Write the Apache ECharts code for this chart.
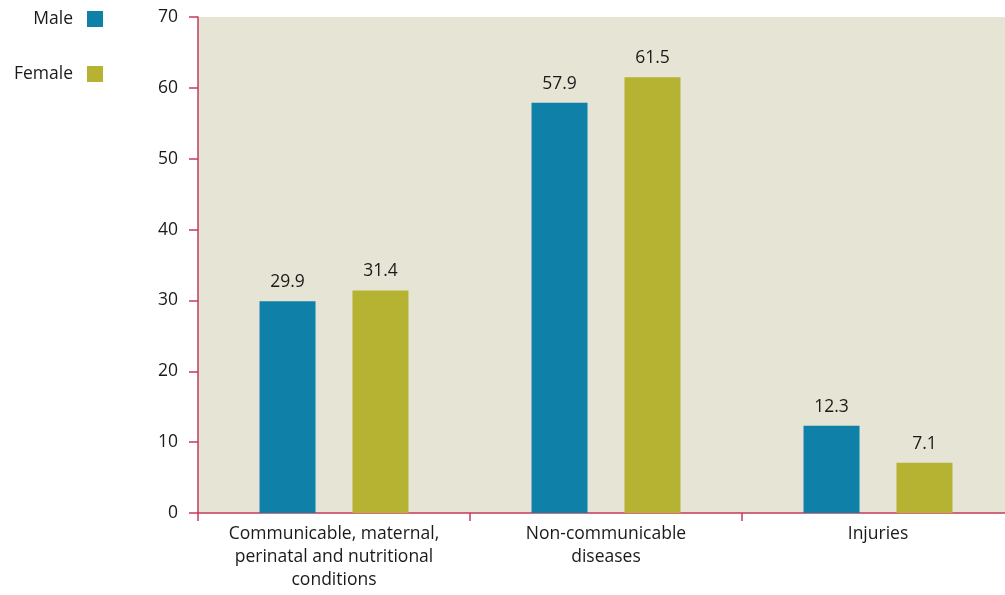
<!DOCTYPE html>
<html>
<head>
<meta charset="utf-8">
<script src="https://cdn.jsdelivr.net/npm/echarts@6/dist/echarts.min.js"></script>
<style>
  html, body { margin: 0; padding: 0; background: #ffffff; }
  #chart { width: 1005px; height: 595px; }
</style>
</head>
<body>
<div id="chart"></div>
<script>
// Share of deaths by cause group, by sex
const categories = [
  'Communicable, maternal,\nperinatal and nutritional\nconditions',
  'Non-communicable\ndiseases',
  'Injuries'
];
const maleValues = [29.9, 57.9, 12.3];
const femaleValues = [31.4, 61.5, 7.1];
const yTicks = { min: 0, max: 70, interval: 10 };

const FONT = 'Open Sans';
const FONT_SIZE = 17.5;
const AXIS_COLOR = '#c33b5b';
const TEXT_COLOR = '#1a1a1a';

const chart = echarts.init(document.getElementById('chart'), null, { renderer: 'canvas' });

const labelStyle = {
  show: true,
  position: 'top',
  distance: 10,
  fontFamily: FONT,
  fontSize: FONT_SIZE,
  color: TEXT_COLOR,
  formatter: p => p.value.toFixed(1)
};

chart.setOption({
  animation: false,
  textStyle: { fontFamily: FONT },
  legend: {
    orient: 'vertical',
    align: 'right',
    right: 902,
    top: 10,
    padding: 0,
    itemWidth: 16,
    itemHeight: 16,
    itemGap: 37,
    icon: 'rect',
    textStyle: { fontFamily: FONT, fontSize: FONT_SIZE, color: TEXT_COLOR, padding: [0, 9, 0, 0] },
    data: ['Male', 'Female']
  },
  grid: {
    left: 198,
    top: 17,
    width: 816,
    bottom: 82,
    outerBoundsMode: 'none',
    containLabel: false,
    show: true,
    backgroundColor: '#e6e4d4',
    borderWidth: 0
  },
  xAxis: {
    type: 'category',
    data: categories,
    axisLine: { show: true, lineStyle: { color: AXIS_COLOR, width: 1.5 } },
    axisTick: { show: true, length: 8, alignWithLabel: false, lineStyle: { color: AXIS_COLOR, width: 1.5 } },
    axisLabel: {
      fontFamily: FONT,
      fontSize: FONT_SIZE,
      color: TEXT_COLOR,
      lineHeight: 23,
      margin: 10,
      interval: 0
    },
    splitLine: { show: false }
  },
  yAxis: {
    type: 'value',
    min: yTicks.min,
    max: yTicks.max,
    interval: yTicks.interval,
    axisLine: { show: true, lineStyle: { color: AXIS_COLOR, width: 1.5 } },
    axisTick: { show: true, length: 9, lineStyle: { color: AXIS_COLOR, width: 1.5 } },
    axisLabel: { fontFamily: FONT, fontSize: FONT_SIZE, color: TEXT_COLOR, margin: 20 },
    splitLine: { show: false }
  },
  series: [
    {
      name: 'Male',
      type: 'bar',
      data: maleValues,
      barWidth: 56,
      barGap: '66%',
      itemStyle: { color: '#0f81a8' },
      label: labelStyle
    },
    {
      name: 'Female',
      type: 'bar',
      data: femaleValues,
      barWidth: 56,
      itemStyle: { color: '#b6b332' },
      label: labelStyle
    }
  ]
});
</script>
</body>
</html>
